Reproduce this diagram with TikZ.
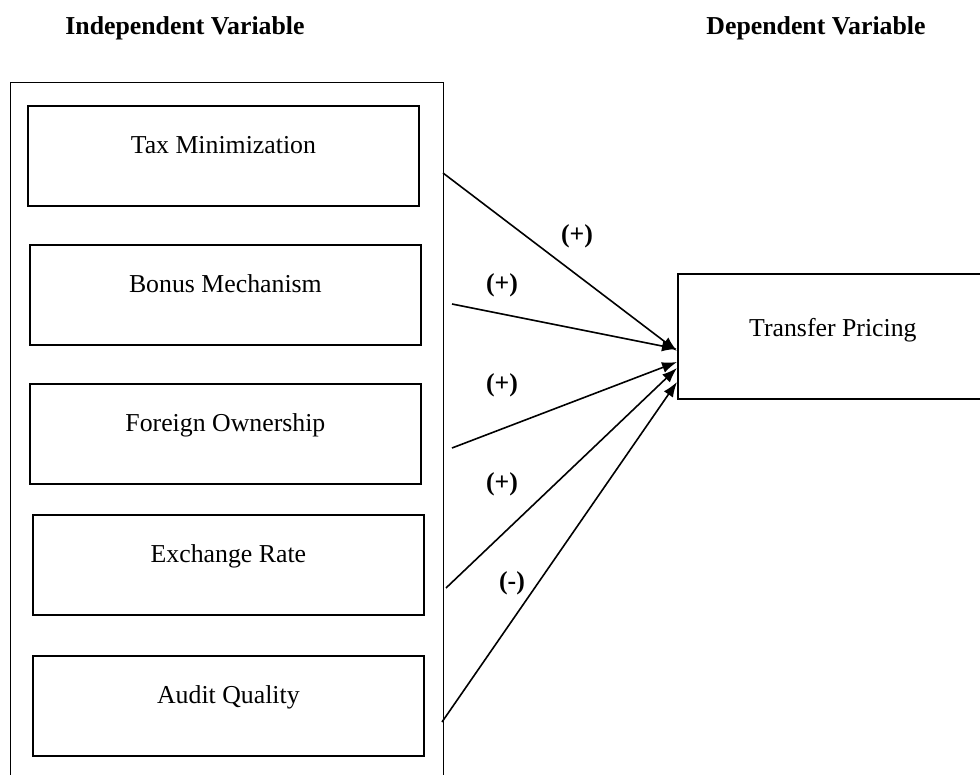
\documentclass[tikz,border=0pt]{standalone}
\usepackage{fontspec}
\setmainfont{Liberation Serif}
\usetikzlibrary{arrows.meta}
\usetikzlibrary{positioning}
\newcommand{\boxfont}{\fontsize{12.9pt}{15pt}\selectfont}

\begin{document}
\begin{tikzpicture}[x=0.5pt, y=-0.5pt, >=Latex]
		\tikzset{
			ivbox/.style={draw, line width=0.9pt, anchor=north west, inner xsep=0pt, inner ysep=0pt, minimum width=195.5pt, text height=24pt, text depth=26pt, font=\boxfont},
			dvbox/.style={draw, line width=0.9pt, anchor=north west, inner xsep=0pt, inner ysep=0pt, minimum width=155pt, text height=31.5pt, text depth=31pt, font=\boxfont},
			frame/.style={draw, line width=0.65pt, anchor=north west, minimum width=216.5pt, minimum height=360pt},
			head/.style={font=\boxfont\bfseries},
			sign/.style={font=\boxfont\bfseries, inner sep=1pt},
			arr/.style={-{Latex[length=7.5pt,width=5.5pt]}, line width=0.8pt},
		}
		\useasboundingbox (0,0) rectangle (980,775);
		\clip (0,0) rectangle (980,775);
		
		\node[head] (ivhead) at (185,28) {Independent Variable};
		\node[head] (dvhead) at (816,28) {Dependent Variable};
		
		\node[frame] (ivframe) at (10,82) {};
		\node[ivbox] (tax) at (27,105) {Tax Minimization};
		\node[ivbox] (bonus) at (29,244) {Bonus Mechanism};
		\node[ivbox] (foreign) at (29,383) {Foreign Ownership};
		\node[ivbox] (exchange) at (32,514) {Exchange Rate};
		\node[ivbox] (audit) at (32,655) {Audit Quality};
		\node[dvbox] (tp) at (677,273) {Transfer Pricing};
		
		% arrow ends
		\coordinate (tax-out) at (443,173);
		\coordinate (bonus-out) at (452,304);
		\coordinate (foreign-out) at (452,448);
		\coordinate (exchange-out) at (446,588);
		\coordinate (audit-out) at (442,722);
		\coordinate (tp-in1) at (677,351);
		\coordinate (tp-in2) at (677,349);
		\coordinate (tp-in3) at (677,362);
		\coordinate (tp-in4) at (677,368);
		\coordinate (tp-in5) at (677,382);
		
		\draw[arr] (tax-out) -- (tp-in1);
		\draw[arr] (bonus-out) -- (tp-in2);
		\draw[arr] (foreign-out) -- (tp-in3);
		\draw[arr] (exchange-out) -- (tp-in4);
		\draw[arr] (audit-out) -- (tp-in5);
		
		\node[sign] (sg-tax) at (577,236) {(+)};
		\node[sign] (sg-bonus) at (502,285) {(+)};
		\node[sign] (sg-foreign) at (502,385) {(+)};
		\node[sign] (sg-exchange) at (502,484) {(+)};
		\node[sign] (sg-audit) at (512,583) {(-)};
	\end{tikzpicture}
\end{document}
